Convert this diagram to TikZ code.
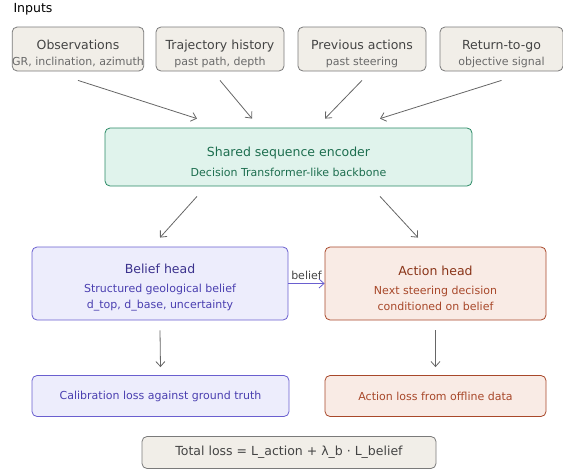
\documentclass[tikz,border=0pt]{standalone}
\usepackage{fontspec}
\setmainfont{DejaVu Sans}
\usetikzlibrary{positioning,arrows.meta}

\definecolor{inpfill}{HTML}{F1EEE8}
\definecolor{inpline}{HTML}{7A7A7A}
\definecolor{inptext}{HTML}{444444}
\definecolor{encfill}{HTML}{E0F3EC}
\definecolor{encline}{HTML}{2A8A65}
\definecolor{enctext}{HTML}{1D6E4F}
\definecolor{belfill}{HTML}{EDEDFC}
\definecolor{belline}{HTML}{6A5FCF}
\definecolor{beltext}{HTML}{4A3FB0}
\definecolor{actfill}{HTML}{F9EBE5}
\definecolor{actline}{HTML}{A8482A}
\definecolor{acttext}{HTML}{8A3519}
\definecolor{flowgray}{HTML}{666666}

\newcommand{\headfont}{\fontsize{12.5}{16}\selectfont}
\newcommand{\notefont}{\fontsize{11}{17}\selectfont}
\newcommand{\topgap}{\rule{0pt}{18.5pt}}

\tikzset{
  box/.style={draw, rounded corners=5pt, line width=0.8pt, align=center, inner sep=0pt},
  inbox/.style={box, fill=inpfill, draw=inpline, text=inptext, minimum height=44pt},
  encbox/.style={box, fill=encfill, draw=encline, text=enctext},
  belbox/.style={box, fill=belfill, draw=belline, text=beltext},
  actbox/.style={box, fill=actfill, draw=actline, text=acttext},
  flow/.style={->, draw=flowgray, line width=0.8pt},
  >={Straight Barb[length=5pt,width=9pt]}
}

\begin{document}
\begin{tikzpicture}[x=1pt, y=-1pt]
  \useasboundingbox (0,0) rectangle (563,471);

  \node[anchor=west, text=black] (inputs) at (10,9) {\headfont Inputs};

  % Input boxes
  \foreach \name/\xc/\bw/\head/\note in {obs/78/128/Observations/{GR, inclination, azimuth},
      traj/220/128/Trajectory history/{past path, depth},
      prev/362/128/Previous actions/{past steering},
      rtg/501.5/123/Return-to-go/{objective signal}}
    \node[inbox, minimum width=\bw pt] (\name) at (\xc,49) {\topgap{\headfont \head}\\[4pt]{\notefont\color{inptext!80!white} \note}};

  % Encoder
  \node[encbox, minimum width=367pt, minimum height=58pt] (enc) at (288.5,157)
    {\topgap{\headfont Shared sequence encoder}\\[8pt]{\notefont Decision Transformer-like backbone}};

  % Heads
  \node[belbox, minimum width=256pt, minimum height=73pt] (belief) at (160,283.5)
    {\topgap{\headfont\color{beltext!80!black} Belief head}\\[7pt]{\notefont Structured geological belief}\\[4pt]{\notefont d\_top, d\_base, uncertainty}};
  \node[actbox, minimum width=221pt, minimum height=73pt] (act) at (435.5,283.5)
    {\topgap{\headfont Action head}\\[7pt]{\notefont\color{actline} Next steering decision}\\[4pt]{\notefont\color{actline} conditioned on belief}};

  % Losses
  \node[belbox, minimum width=257pt, minimum height=41pt] (calib) at (160.5,396)
    {\notefont Calibration loss against ground truth};
  \node[actbox, minimum width=221pt, minimum height=41pt] (actloss) at (435.5,396)
    {\notefont\color{actline} Action loss from offline data};
  \node[box, fill=inpfill, draw=inpline, text=inptext, minimum width=294pt, minimum height=32pt] (total) at (289,452.5)
    {\headfont Total loss = L\_action + λ\_b · L\_belief};

  % Connectors
  \draw[flow] ([yshift=-9pt]obs.south) -- ([xshift=-91.5pt,yshift=9pt]enc.north);
  \draw[flow] ([yshift=-9pt]traj.south) -- ([xshift=-36.5pt,yshift=9pt]enc.north);
  \draw[flow] ([yshift=-9pt]prev.south) -- ([xshift=36.5pt,yshift=9pt]enc.north);
  \draw[flow] ([yshift=-9pt]rtg.south) -- ([xshift=91.5pt,yshift=9pt]enc.north);

  \draw[flow] ([xshift=-91.5pt,yshift=-10pt]enc.south) -- ([yshift=9pt]belief.north);
  \draw[flow] ([xshift=91.5pt,yshift=-10pt]enc.south) -- ([xshift=-17.5pt,yshift=9pt]act.north);

  \draw[->, draw=belline, line width=0.8pt] (belief.east) -- (act.west)
    node[midway, above, text=inptext, inner sep=3pt] {\notefont belief};

  \draw[flow] ([yshift=-10pt]belief.south) -- ([yshift=8pt]calib.north);
  \draw[flow] ([yshift=-10pt]act.south) -- ([yshift=8pt]actloss.north);

\end{tikzpicture}
\end{document}
